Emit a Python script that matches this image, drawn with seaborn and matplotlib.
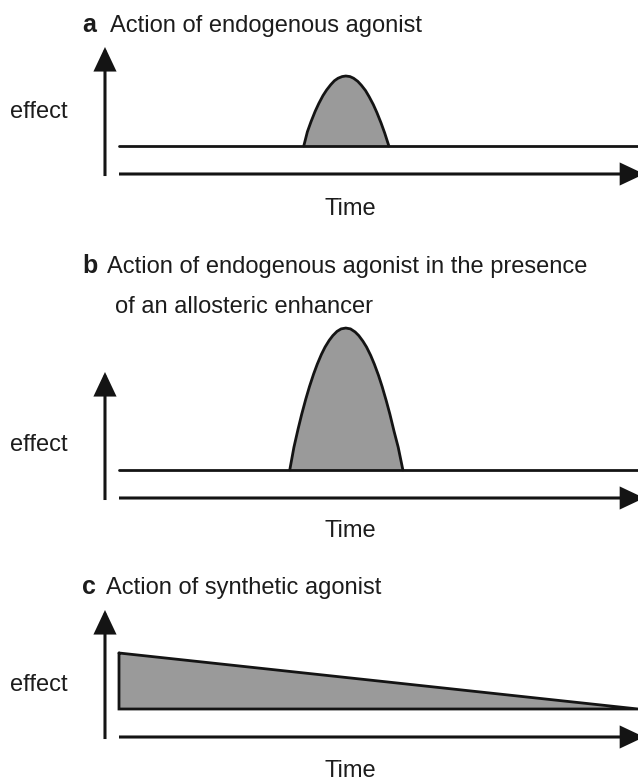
import matplotlib
matplotlib.use("Agg")
import matplotlib.pyplot as plt
import seaborn as sns
import pandas as pd

# schematic curves (time 0-10, effect: baseline = 0)
baseline_time = [0, 10]
baseline_effect = [0, 0]

peak_a_time = [3.56, 3.63, 3.70, 3.78, 3.85, 3.93, 4.00, 4.08, 4.15, 4.22, 4.30, 4.37,
               4.45, 4.52, 4.60, 4.67, 4.75, 4.82, 4.90, 4.97, 5.05, 5.12, 5.20]
peak_a_effect = [0.0, 0.51, 0.87, 1.24, 1.52, 1.80, 2.00, 2.19, 2.33, 2.42, 2.48, 2.50,
                 2.48, 2.42, 2.31, 2.17, 1.98, 1.76, 1.48, 1.19, 0.82, 0.46, 0.0]

peak_b_time = [3.29, 3.37, 3.45, 3.52, 3.60, 3.67, 3.75, 3.82, 3.90, 3.97, 4.05, 4.12, 4.20, 4.28,
               4.37, 4.46, 4.55, 4.62, 4.70, 4.77, 4.85, 4.92, 5.00, 5.07, 5.15, 5.22, 5.30, 5.38, 5.47]
peak_b_effect = [0.0, 0.81, 1.46, 1.99, 2.54, 2.98, 3.43, 3.78, 4.13, 4.39, 4.63, 4.80, 4.95, 5.04,
                 5.07, 5.04, 4.93, 4.80, 4.60, 4.39, 4.09, 3.78, 3.38, 2.98, 2.47, 1.99, 1.38, 0.81, 0.0]

synth_time = [0, 10]
synth_effect = [2.0, 0.0]

letters = ["a", "b", "c"]
titles = ["Action of endogenous agonist",
          "Action of endogenous agonist in the presence",
          "Action of synthetic agonist"]
subtitle_b = "of an allosteric enhancer"
xlabel = "Time"
ylabel = "effect"

sns.set_style("white")
plt.rcParams['font.family'] = ['Liberation Sans', 'DejaVu Sans']

W, H = 638, 782
fig = plt.figure(figsize=(W / 100, H / 100), dpi=100)

ink = '#141414'
txt = '#1c1c1c'
fill = '#9a9a9a'
fs = 17


def px(x, y):
    return x / W, (H - y) / H


def panel(top, bottom):
    # top = arrow tip, bottom = time arrow (pixels from top)
    ax = fig.add_axes([119 / W, (H - bottom) / H, 519 / W, (bottom - top) / H])
    ax.set_xlim(0, 10)
    ax.set_ylim(-1, (bottom - top) / 28 - 1)
    ax.set_axis_off()
    arrow = dict(arrowstyle='-|>,head_length=0.7,head_width=0.33', mutation_scale=20,
                 lw=2.2, color=ink, shrinkA=0, shrinkB=0, joinstyle='miter', capstyle='butt')
    ax.annotate("", xy=(1.012, 0), xytext=(0, 0), xycoords='axes fraction',
                textcoords='axes fraction', arrowprops=arrow)
    ax.annotate("", xy=(-0.027, 1.0), xytext=(-0.027, -0.016), xycoords='axes fraction',
                textcoords='axes fraction', arrowprops=arrow)
    return ax


def peak(ax, t, e):
    ax.fill_between(t, 0, e, color=fill, lw=0, clip_on=False)
    sns.lineplot(x=t, y=e, ax=ax, color=ink, lw=2, clip_on=False, solid_joinstyle='round')
    sns.lineplot(x=baseline_time, y=baseline_effect, ax=ax, color=ink, lw=2, clip_on=False)


ax_a = panel(47, 174)
peak(ax_a, peak_a_time, peak_a_effect)

ax_b = panel(372, 498)
peak(ax_b, peak_b_time, peak_b_effect)

ax_c = panel(610, 737)
ax_c.fill_between(synth_time, 0, synth_effect, color=fill, lw=0, clip_on=False)
syn = pd.DataFrame({"time": synth_time + [synth_time[0], synth_time[0]],
                    "effect": synth_effect + [baseline_effect[0], synth_effect[0]]})
ax_c.plot(syn["time"], syn["effect"], color=ink, lw=2, clip_on=False, solid_joinstyle='miter')

# titles
title_pos = [(32, 110), (273, 107), (594, 106)]
for letter, title, (yb, xt) in zip(letters, titles, title_pos):
    fig.text(*px(82, yb), letter, fontsize=fs + 1, fontweight='bold', color=txt, va='baseline')
    fig.text(*px(xt, yb), title, fontsize=fs, color=txt, va='baseline')
fig.text(*px(115, 313), subtitle_b, fontsize=fs, color=txt, va='baseline')

for yb in [215, 537, 777]:
    fig.text(*px(350, yb), xlabel, fontsize=fs, color=txt, ha='center', va='baseline')
for yb in [118, 451, 691]:
    fig.text(*px(10, yb), ylabel, fontsize=fs, color=txt, va='baseline')

fig.savefig("out.png", dpi=100)
